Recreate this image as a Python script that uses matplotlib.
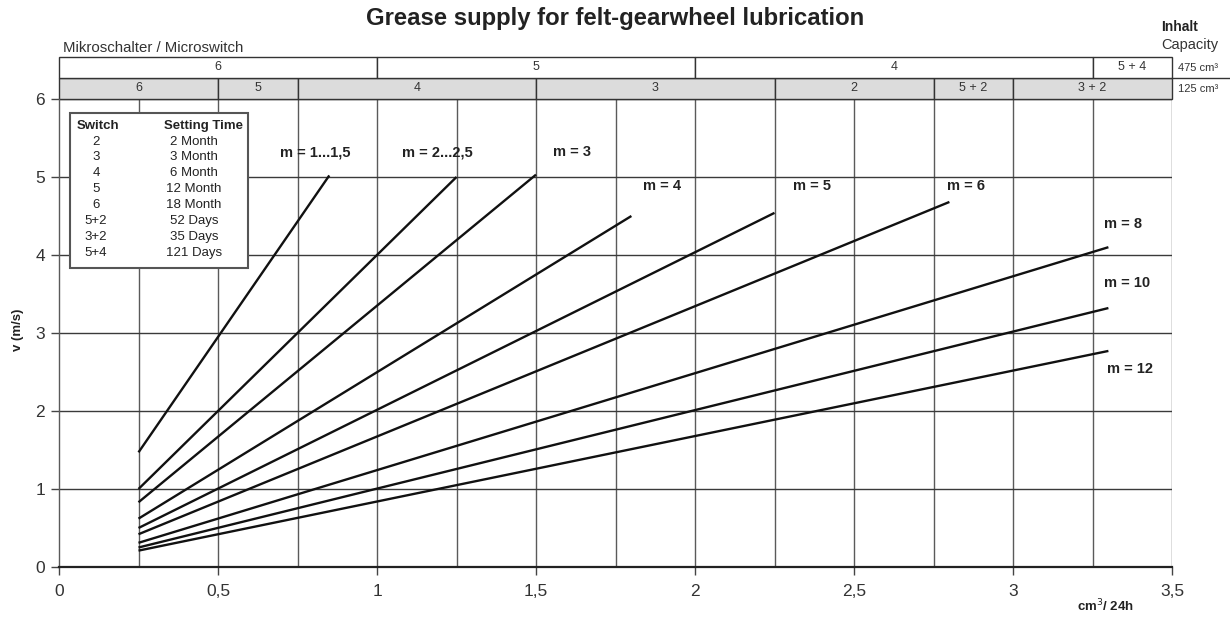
import matplotlib
matplotlib.use("Agg")
import matplotlib.pyplot as plt
from matplotlib.patches import Rectangle

plt.rcParams['font.family'] = ['Liberation Sans Narrow', 'Liberation Sans', 'DejaVu Sans']

# ---- data ----
series_labels = ["m = 1...1,5", "m = 2...2,5", "m = 3", "m = 4", "m = 5", "m = 6", "m = 8", "m = 10", "m = 12"]
x_start = [0.25, 0.25, 0.25, 0.25, 0.25, 0.25, 0.25, 0.25, 0.25]
x_end = [0.85, 1.25, 1.50, 1.80, 2.25, 2.80, 3.30, 3.30, 3.30]
v_start = [1.47, 1.00, 0.83, 0.62, 0.50, 0.42, 0.31, 0.25, 0.21]
v_end = [5.02, 5.00, 5.03, 4.50, 4.54, 4.68, 4.10, 3.32, 2.77]
label_x = [0.696, 1.08, 1.552, 1.838, 2.307, 2.792, 3.286, 3.286, 3.296]
label_y = [5.32, 5.32, 5.32, 4.88, 4.88, 4.88, 4.40, 3.64, 2.54]

band1_edges = [0, 1.0, 2.0, 3.25, 3.5]
band1_labels = ["6", "5", "4", "5 + 4"]
band2_edges = [0, 0.5, 0.75, 1.5, 2.25, 2.75, 3.0, 3.5]
band2_labels = ["6", "5", "4", "3", "2", "5 + 2", "3 + 2"]

switches = ["2", "3", "4", "5", "6", "5+2", "3+2", "5+4"]
setting_times = ["2 Month", "3 Month", "6 Month", "12 Month", "18 Month", "52 Days", "35 Days", "121 Days"]

x_ticks = [0, 0.5, 1, 1.5, 2, 2.5, 3, 3.5]
x_tick_labels = ["0", "0,5", "1", "1,5", "2", "2,5", "3", "3,5"]
y_ticks = [0, 1, 2, 3, 4, 5, 6]
v_grid_x = [0.25, 0.5, 0.75, 1.0, 1.25, 1.5, 1.75, 2.0, 2.25, 2.5, 2.75, 3.0, 3.25, 3.5]

W, H = 1230, 618
fig = plt.figure(figsize=(W / 100, H / 100), dpi=100)
ax = fig.add_axes([59 / W, 1 - 567 / H, (1172 - 59) / W, (567 - 99) / H])
ax.set_xlim(0, 3.5)
ax.set_ylim(0, 6)

# grid
for gx in v_grid_x:
    ax.axvline(gx, color='#5a5a5a', lw=1.0, zorder=1)
for gy in y_ticks[1:]:
    ax.axhline(gy, color='#3a3a3a', lw=1.0, zorder=1)

for s in ['top', 'right']:
    ax.spines[s].set_visible(False)
ax.spines['left'].set_color('#5a5a5a')
ax.spines['left'].set_linewidth(1.0)
ax.spines['bottom'].set_color('#222222')
ax.spines['bottom'].set_linewidth(1.6)

ax.set_xticks(x_ticks)
ax.set_xticklabels(x_tick_labels)
ax.set_yticks(y_ticks)
ax.tick_params(axis='both', direction='out', length=6, width=1, color='#444444',
               labelsize=12.5, labelcolor='#333333')
ax.tick_params(axis='x', pad=6)
ax.tick_params(axis='y', pad=4)

lf = ['Liberation Sans', 'DejaVu Sans']

# lines
for xs, xe, vs, ve, lab, lx, ly in zip(x_start, x_end, v_start, v_end, series_labels, label_x, label_y):
    ax.plot([xs, xe], [vs, ve], color='#111111', lw=1.7, zorder=3, solid_capstyle='butt')
    ax.text(lx, ly, lab, fontsize=10.5, fontweight='bold', color='#222222',
            ha='left', va='center', family=lf, zorder=4)

# bands above plot
row_h = 0.27
for i in range(len(band2_labels)):
    x0, x1 = band2_edges[i], band2_edges[i + 1]
    ax.add_patch(Rectangle((x0, 6.0), x1 - x0, row_h, facecolor='#dcdcdc', edgecolor='#333333',
                           lw=1.0, clip_on=False, zorder=2))
    ax.text((x0 + x1) / 2, 6.0 + row_h / 2, band2_labels[i], ha='center', va='center',
            fontsize=9, color='#333333', clip_on=False)
for i in range(len(band1_labels)):
    x0, x1 = band1_edges[i], band1_edges[i + 1]
    ax.add_patch(Rectangle((x0, 6.0 + row_h), x1 - x0, row_h, facecolor='white', edgecolor='#333333',
                           lw=1.0, clip_on=False, zorder=2))
    ax.text((x0 + x1) / 2, 6.0 + 1.5 * row_h, band1_labels[i], ha='center', va='center',
            fontsize=9, color='#333333', clip_on=False)
# divider extending across the capacity column
ax.plot([3.5, 3.7], [6.0 + row_h, 6.0 + row_h], color='#333333', lw=1.0, clip_on=False, zorder=2)

# legend box
ax.add_patch(Rectangle((0.035, 3.83), 0.56, 1.99, facecolor='white', edgecolor='#555555',
                       lw=1.5, zorder=5))
rows_y = [142, 157, 173, 189, 205, 221, 237, 253]
fig.text(77 / W, 1 - 126 / H, "Switch", fontsize=9.5, fontweight='bold', ha='left', va='center',
         color='#222222', family=lf, zorder=6)
fig.text(203 / W, 1 - 126 / H, "Setting Time", fontsize=9.5, fontweight='bold', ha='center', va='center',
         color='#222222', family=lf, zorder=6)
for ry, sw, st in zip(rows_y, switches, setting_times):
    fig.text(96 / W, 1 - ry / H, sw, fontsize=9.5, ha='center', va='center', color='#222222', family=lf, zorder=6)
    fig.text(194 / W, 1 - ry / H, st, fontsize=9.5, ha='center', va='center', color='#222222', family=lf, zorder=6)

# texts
fig.text(615 / W, 1 - 19 / H, "Grease supply for felt-gearwheel lubrication", fontsize=17.2,
         fontweight='bold', ha='center', va='center', color='#222222', family=lf)
fig.text(63 / W, 1 - 48 / H, "Mikroschalter / Microswitch", fontsize=10.8, ha='left', va='center',
         color='#333333')
fig.text(1161 / W, 1 - 27 / H, "Inhalt", fontsize=10, fontweight='bold', ha='left', va='center',
         color='#222222', family=lf)
fig.text(1161 / W, 1 - 45 / H, "Capacity", fontsize=10.5, ha='left', va='center', color='#333333')
fig.text(1178 / W, 1 - 68 / H, "475 cm³", fontsize=8, ha='left', va='center', color='#333333')
fig.text(1178 / W, 1 - 89 / H, "125 cm³", fontsize=8, ha='left', va='center', color='#333333')
fig.text(1105 / W, 1 - 606 / H, "cm$^3$/ 24h", fontsize=9.5, fontweight='bold', ha='center', va='center',
         color='#222222', family=lf)
fig.text(18 / W, 1 - 330 / H, "v (m/s)", fontsize=9.5, fontweight='bold', ha='center', va='center',
         rotation=90, color='#222222', family=lf)

fig.savefig("out.png", dpi=100)
